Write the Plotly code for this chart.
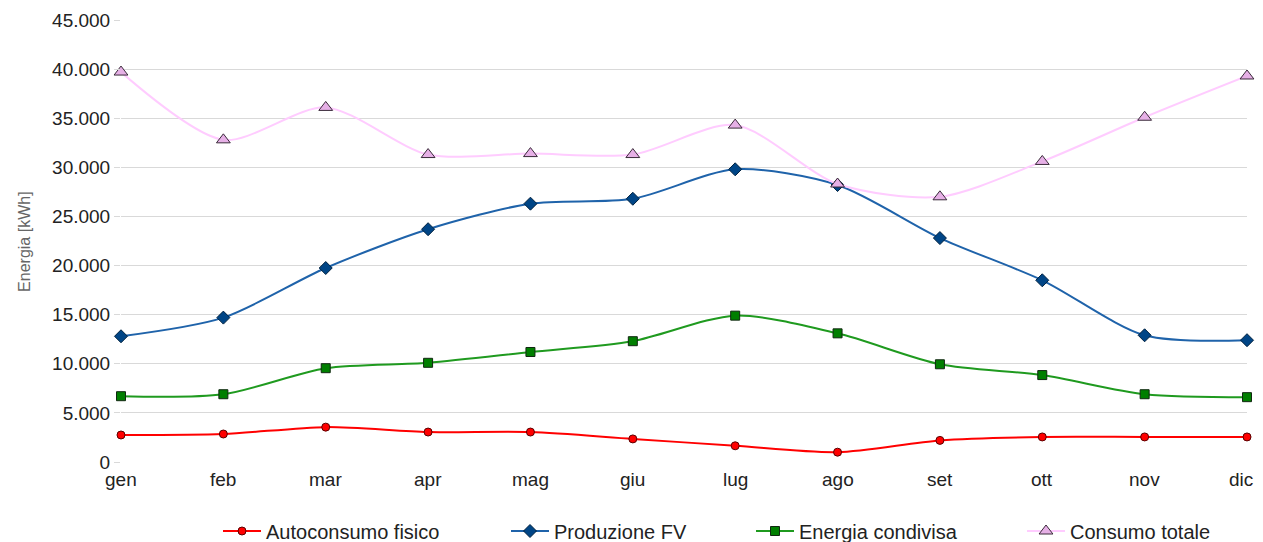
import plotly.graph_objects as go

mesi = ["gen", "feb", "mar", "apr", "mag", "giu", "lug", "ago", "set", "ott", "nov", "dic"]
autoconsumo = [2750, 2850, 3550, 3050, 3050, 2350, 1650, 1000, 2200, 2550, 2550, 2550]
produzione = [12800, 14700, 19750, 23700, 26300, 26800, 29800, 28200, 22800, 18500, 12900, 12400]
condivisa = [6700, 6900, 9550, 10100, 11200, 12300, 14900, 13100, 9950, 8850, 6900, 6600]
consumo = [39700, 32800, 36100, 31300, 31400, 31300, 34300, 28300, 27000, 30600, 35100, 39300]
y_ticks = [0, 5000, 10000, 15000, 20000, 25000, 30000, 35000, 40000, 45000]

FONT = "Liberation Sans"
TXT = "#222222"
x = list(range(len(mesi)))

fig = go.Figure()
fig.add_trace(go.Scatter(
    x=x, y=autoconsumo, name="Autoconsumo fisico", mode="lines+markers", legend="legend",
    line=dict(color="#ff0000", width=2, shape="spline", smoothing=0.8), cliponaxis=False,
    marker=dict(symbol="circle", size=8, color="#ff0000", line=dict(color="#5a0000", width=1)),
))
fig.add_trace(go.Scatter(
    x=x, y=produzione, name="Produzione FV", mode="lines+markers", legend="legend2",
    line=dict(color="#1f63aa", width=2, shape="spline", smoothing=0.8), cliponaxis=False,
    marker=dict(symbol="diamond", size=10, color="#004586", line=dict(color="#00213f", width=1)),
))
fig.add_trace(go.Scatter(
    x=x, y=condivisa, name="Energia condivisa", mode="lines+markers", legend="legend3",
    line=dict(color="#1f9a1f", width=2, shape="spline", smoothing=0.8), cliponaxis=False,
    marker=dict(symbol="square", size=9, color="#007f00", line=dict(color="#102810", width=1)),
))
fig.add_trace(go.Scatter(
    x=x, y=consumo, name="Consumo totale", mode="lines+markers", legend="legend4",
    line=dict(color="#ffccff", width=2, shape="spline", smoothing=0.8), cliponaxis=False,
    marker=dict(symbol="triangle-up", size=12, color="#e6b0e6", line=dict(color="#3a2a3a", width=1)),
))

OFF = 8  # page body margin
W, H = 1263 - OFF, 542 - OFF

def leg(px_left):
    return dict(orientation="h", xref="container", yref="container",
                x=(px_left - OFF) / W, xanchor="left", y=(H - (531 - OFF)) / H, yanchor="middle",
                font=dict(family=FONT, size=20, color=TXT), bgcolor="rgba(0,0,0,0)",
                itemwidth=38)

# month labels as annotations so the last one stays inside the visible page
month_ann = []
for i, m in enumerate(mesi):
    last = i == len(mesi) - 1
    month_ann.append(dict(
        text=m, x=i, y=0, xref="x", yref="paper", showarrow=False,
        xanchor="right" if last else "center", yanchor="top",
        xshift=8 if last else 0, yshift=-5,
        font=dict(family=FONT, size=19, color=TXT),
    ))

fig.update_layout(
    width=W, height=H,
    margin=dict(l=121 - OFF, r=W - (1247 - OFF), t=20 - OFF, b=H - (462 - OFF), autoexpand=False),
    paper_bgcolor="white", plot_bgcolor="white",
    separators=",.",
    font=dict(family=FONT, size=18, color=TXT),
    showlegend=True,
    legend=leg(218), legend2=leg(506), legend3=leg(751), legend4=leg(1022),
    xaxis=dict(
        range=[0, 11], tickmode="array", tickvals=x, showticklabels=False,
        showgrid=False, zeroline=False, showline=False, ticks="", automargin=False,
    ),
    yaxis=dict(
        range=[0, 45000], tickmode="array", tickvals=y_ticks,
        tickformat=",d", automargin=False,
        showgrid=True, gridcolor="#d9d9d9", gridwidth=1,
        zeroline=False, showline=False,
        ticks="outside", ticklen=6, tickcolor="#d9d9d9",
        tickfont=dict(family=FONT, size=19, color=TXT),
    ),
    annotations=month_ann + [dict(
        text="Energia [kWh]", textangle=-90, showarrow=False,
        xref="paper", yref="paper", x=(25 - 121) / 1126, y=0.498,
        xanchor="center", yanchor="middle",
        font=dict(family=FONT, size=16, color="#666666"),
    )],
)

fig.write_html("out.html")
